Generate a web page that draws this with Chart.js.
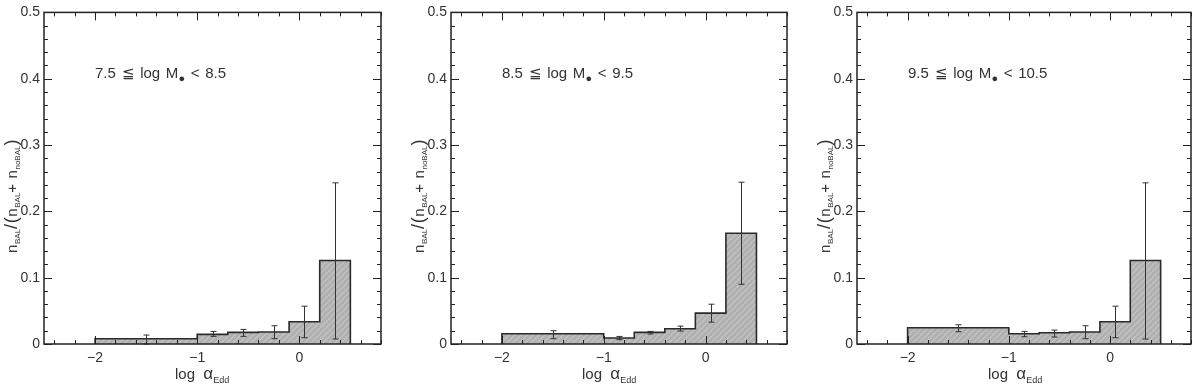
<!DOCTYPE html>
<html>
<head>
<meta charset="utf-8">
<script src="https://cdn.jsdelivr.net/npm/chart.js@4/dist/chart.umd.min.js"></script>
<style>
  body { margin:0; background:#fff; width:1200px; height:387px; overflow:hidden; position:relative;
         font-family:"Liberation Sans", Arial, sans-serif; color:#333; }
  .panel { position:absolute; top:0; width:400px; height:387px; }
  .panel canvas { position:absolute; left:0; top:0; }
  .lbl { position:absolute; white-space:nowrap; color:#333; line-height:1; }
  .xt { font-size:15px; }
  .xt .a { font-size:17px; }
  .xt sub { font-size:9px; vertical-align:-4px; }
  .yt { font-size:15px; transform-origin:0 0; transform:rotate(-90deg); letter-spacing:0.6px; }
  .yt sub { font-size:8px; vertical-align:-3px; letter-spacing:0; }
  .yt .p { font-size:18px; }
  .note { font-size:15px; word-spacing:1.5px; }
  .dot { font-size:11px; vertical-align:-4px; }
</style>
</head>
<body>
<script>
// bin edges in log alpha_Edd (same for all three panels)
const binEdges = [-2, -1, -0.7, -0.4, -0.1, 0.2, 0.5]

// BAL fraction per bin, and error bar lower / upper ends
const fracLow  = [0.008, 0.0145, 0.0175, 0.018, 0.0335, 0.126]
const errLoLow = [0.0, 0.0115, 0.0115, 0.008, 0.0095, 0.0075]
const errHiLow = [0.0135, 0.019, 0.022, 0.0275, 0.057, 0.243]

const fracMid  = [0.0155, 0.009, 0.0175, 0.023, 0.0465, 0.167]
const errLoMid = [0.008, 0.0065, 0.015, 0.0195, 0.033, 0.090]
const errHiMid = [0.020, 0.0114, 0.019, 0.027, 0.060, 0.244]

const fracHigh  = [0.0245, 0.0155, 0.017, 0.018, 0.0335, 0.126]
const errLoHigh = [0.0185, 0.011, 0.0105, 0.008, 0.0095, 0.0075]
const errHiHigh = [0.029, 0.019, 0.021, 0.0275, 0.057, 0.243]

const massLabels = [['7.5', '8.5'], ['8.5', '9.5'], ['9.5', '10.5']]
const xTickLabels = [-2, -1, 0]
const yTickLabels = [0, 0.1, 0.2, 0.3, 0.4, 0.5]

const panels = [
  {frac: fracLow,  lo: errLoLow,  hi: errHiLow,  mass: massLabels[0], left: 0,   padL: 44, padR: 19},
  {frac: fracMid,  lo: errLoMid,  hi: errHiMid,  mass: massLabels[1], left: 400, padL: 51, padR: 13},
  {frac: fracHigh, lo: errLoHigh, hi: errHiHigh, mass: massLabels[2], left: 800, padL: 57, padR: 9}
]

function hatch(){
  const c = document.createElement('canvas')
  c.width = 6; c.height = 6
  const g = c.getContext('2d')
  g.fillStyle = '#b0b0b0'
  g.fillRect(0, 0, 6, 6)
  g.strokeStyle = '#c6c6c6'
  g.lineWidth = 1.2
  g.beginPath()
  g.moveTo(0, 6); g.lineTo(6, 0)
  g.moveTo(-3, 3); g.lineTo(3, -3)
  g.moveTo(3, 9); g.lineTo(9, 3)
  g.stroke()
  return g.createPattern(c, 'repeat')
}

// frame with inward ticks on all sides + error bars
const framePlugin = {
  id: 'frame',
  afterDatasetsDraw(chart, args, opts){
    const {ctx, chartArea: a, scales: {x, y}} = chart
    ctx.save()
    // error bars
    ctx.strokeStyle = '#333'
    ctx.lineWidth = 1
    for (let i = 0; i < opts.lo.length; i++){
      const px = Math.round(x.getPixelForValue((binEdges[i] + binEdges[i+1]) / 2)) + 0.5
      const y1 = y.getPixelForValue(opts.lo[i]), y2 = y.getPixelForValue(opts.hi[i])
      ctx.beginPath()
      ctx.moveTo(px, y1); ctx.lineTo(px, y2)
      ctx.moveTo(px - 3, y1); ctx.lineTo(px + 3, y1)
      ctx.moveTo(px - 3, y2); ctx.lineTo(px + 3, y2)
      ctx.stroke()
    }
    // ticks
    ctx.strokeStyle = '#222'
    ctx.lineWidth = 1
    ctx.beginPath()
    for (let k = 0; k <= 25; k++){
      const v = k * 0.02
      const py = Math.round(y.getPixelForValue(v)) + 0.5
      const len = k % 5 === 0 ? 8 : 4
      ctx.moveTo(a.left, py); ctx.lineTo(a.left + len, py)
      ctx.moveTo(a.right, py); ctx.lineTo(a.right - len, py)
    }
    for (let k = -12; k <= 4; k++){
      const v = k * 0.2
      const px = Math.round(x.getPixelForValue(v)) + 0.5
      const len = k % 5 === 0 ? 8 : 4
      ctx.moveTo(px, a.bottom); ctx.lineTo(px, a.bottom - len)
      ctx.moveTo(px, a.top); ctx.lineTo(px, a.top + len)
    }
    ctx.stroke()
    ctx.lineWidth = 1.5
    ctx.strokeRect(a.left, a.top, a.right - a.left, a.bottom - a.top)
    ctx.restore()
  }
}

const pattern = hatch()

panels.forEach((p, idx) => {
  const div = document.createElement('div')
  div.className = 'panel'
  div.style.left = p.left + 'px'
  document.body.appendChild(div)
  const cv = document.createElement('canvas')
  cv.width = 400; cv.height = 387
  div.appendChild(cv)

  // step outline: points at bin edges, closed to zero at both ends
  const pts = [{x: binEdges[0], y: 0}]
  for (let i = 0; i < p.frac.length; i++) pts.push({x: binEdges[i], y: p.frac[i]})
  pts.push({x: binEdges[binEdges.length - 1], y: p.frac[p.frac.length - 1]})
  pts.push({x: binEdges[binEdges.length - 1], y: 0})

  new Chart(cv, {
    type: 'line',
    data: {
      datasets: [{
        data: pts,
        stepped: 'before',
        fill: 'origin',
        backgroundColor: pattern,
        borderColor: '#2a2a2a',
        borderWidth: 1.6,
        pointRadius: 0
      }]
    },
    options: {
      responsive: false,
      animation: false,
      events: [],
      layout: {padding: {top: 9, right: p.padR, left: 0, bottom: 0}},
      plugins: {
        legend: {display: false},
        tooltip: {enabled: false},
        frame: {lo: p.lo, hi: p.hi}
      },
      scales: {
        x: {
          type: 'linear', min: -2.5, max: 0.8,
          grid: {display: false, drawTicks: false},
          border: {display: false},
          afterBuildTicks: s => { s.ticks = xTickLabels.map(v => ({value: v})) },
          afterFit: s => { s.height = 43 },
          ticks: {
            padding: 6, color: '#333', maxRotation: 0,
            font: {family: '"Liberation Sans", Arial, sans-serif', size: 14},
            callback: v => (v < 0 ? '\u2212' + Math.abs(v) : String(v))
          }
        },
        y: {
          type: 'linear', min: 0, max: 0.5,
          grid: {display: false, drawTicks: false},
          border: {display: false},
          afterBuildTicks: s => { s.ticks = yTickLabels.map(v => ({value: v})) },
          afterFit: s => { s.width = p.padL },
          ticks: {
            padding: 4, color: '#333',
            font: {family: '"Liberation Sans", Arial, sans-serif', size: 14},
            callback: v => String(v)
          }
        }
      }
    },
    plugins: [framePlugin]
  })

  const xt = document.createElement('div')
  xt.className = 'lbl xt'
  xt.innerHTML = 'log&nbsp; <span class="a">&alpha;</span><sub>Edd</sub>'
  xt.style.left = (p.padL + 131) + 'px'
  xt.style.top = '365px'
  div.appendChild(xt)

  const yt = document.createElement('div')
  yt.className = 'lbl yt'
  yt.innerHTML = 'n<sub>BAL</sub><span class="p">/(</span>n<sub>BAL</sub>+ n<sub>noBAL</sub><span class="p">)</span>'
  yt.style.left = (p.padL - 42) + 'px'
  yt.style.top = '253px'
  div.appendChild(yt)

  const note = document.createElement('div')
  note.className = 'lbl note'
  note.innerHTML = p.mass[0] + ' &#8806; log M<span class="dot">&#9679;</span> &lt; ' + p.mass[1]
  note.style.left = (p.padL + 51) + 'px'
  note.style.top = '65px'
  div.appendChild(note)
})
</script>
</body>
</html>
